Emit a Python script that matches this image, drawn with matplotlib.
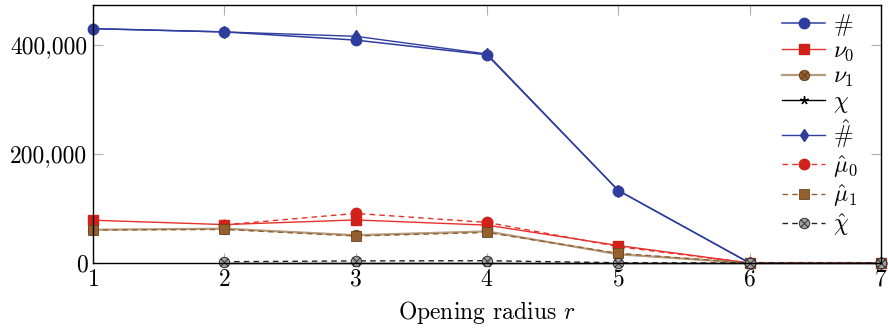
import numpy as np
import matplotlib
matplotlib.use("Agg")
import matplotlib.pyplot as plt
from matplotlib.path import Path
from matplotlib.ticker import FuncFormatter

plt.rcParams['font.family'] = 'serif'
plt.rcParams['font.serif'] = ['cmr10']
plt.rcParams['mathtext.fontset'] = 'cm'
plt.rcParams['axes.formatter.use_mathtext'] = True

# data
radius = [1, 2, 3, 4, 5, 6, 7]
count = [430000, 424000, 409000, 382000, 133000, 0, 0]
nu0 = [78500, 70500, 79000, 69500, 32000, 0, 0]
nu1 = [61000, 63000, 51000, 58000, 16000, 0, 0]
chi = [np.nan, 0, 0, 0, 0, 0, 0]
count_hat = [430000, 424000, 416000, 383500, 133000, 0, 0]
mu0_hat = [np.nan, 70000, 91000, 74500, 30000, 0, 0]
mu1_hat = [60500, 61500, 49500, 56000, 17800, 0, 0]
chi_hat = [np.nan, 2400, 3800, 4200, 500, 0, 0]

labels = [r'$\#$', r'$\nu_0$', r'$\nu_1$', r'$\chi$',
          r'$\hat{\#}$', r'$\hat{\mu}_0$', r'$\hat{\mu}_1$', r'$\hat{\chi}$']

# circle with a cross inside (pgfplots otimes)
c = Path.unit_circle()
d = 0.7071
otimes = Path(np.vstack([c.vertices, [[-d, -d], [d, d], [-d, d], [d, -d]]]),
              np.concatenate([c.codes, [Path.MOVETO, Path.LINETO, Path.MOVETO, Path.LINETO]]))

blue = '#2e3d9e'
red_line = '#e8302a'
red_mark = '#d0221a'
brown = '#93602e'
tan = '#b39b80'

fig = plt.figure(figsize=(8.88, 3.31), dpi=100)
ax = fig.add_axes([93/888, 1-263/331, (881-93)/888, (263-5)/331])

ms = 7.5
kw = dict(clip_on=False)
ax.plot(radius, count, color=blue, lw=1.1, marker='o', ms=ms, mfc=blue, mec=blue, label=labels[0], **kw)
ax.plot(radius, nu0, color=red_line, lw=1.0, marker='s', ms=ms, mfc=red_mark, mec=red_mark, label=labels[1], **kw)
ax.plot(radius, nu1, color=tan, lw=1.6, marker=otimes, ms=ms, mfc=brown, mec='#5a3a1a', mew=0.6, label=labels[2], **kw)
ax.plot(radius, chi, color='black', lw=1.0, marker=(5, 2, 0), ms=6, mec='black', label=labels[3], **kw)
ax.plot(radius, count_hat, color=blue, lw=1.0, marker='d', ms=6, mfc=blue, mec=blue, label=labels[4], **kw)
ax.plot(radius, mu0_hat, color=red_line, lw=1.0, ls=(0, (4, 3)), marker='o', ms=ms, mfc=red_mark, mec=red_mark, label=labels[5], **kw)
ax.plot(radius, mu1_hat, color=brown, lw=1.0, ls=(0, (4, 3)), marker='s', ms=ms, mfc=brown, mec='#6a4520', mew=0.6, label=labels[6], **kw)
ax.plot(radius, chi_hat, color='#222222', lw=1.0, ls=(0, (4, 3)), marker=otimes, ms=ms, mfc='#a0a0a0', mec='#333333', mew=0.7, label=labels[7], **kw)

ax.set_xlim(1, 7)
ax.set_ylim(0, 473400)
ax.set_xticks(radius)
ax.set_yticks([0, 200000, 400000])
ax.yaxis.set_major_formatter(FuncFormatter(lambda v, p: '{:,}'.format(int(v))))
ax.tick_params(direction='in', length=7, width=0.8, color='#b0b0b0',
               top=True, right=True, labelsize=17, pad=4)
for s in ax.spines.values():
    s.set_linewidth(1.0)
ax.set_xlabel(r'Opening radius $r$', fontsize=17, labelpad=6)

leg = ax.legend(loc='upper right', frameon=False, fontsize=17, handlelength=1.85,
                handletextpad=0.3, labelspacing=0.1, borderaxespad=0.0,
                bbox_to_anchor=(0.982, 1.01))

fig.savefig('out.png', dpi=100)
